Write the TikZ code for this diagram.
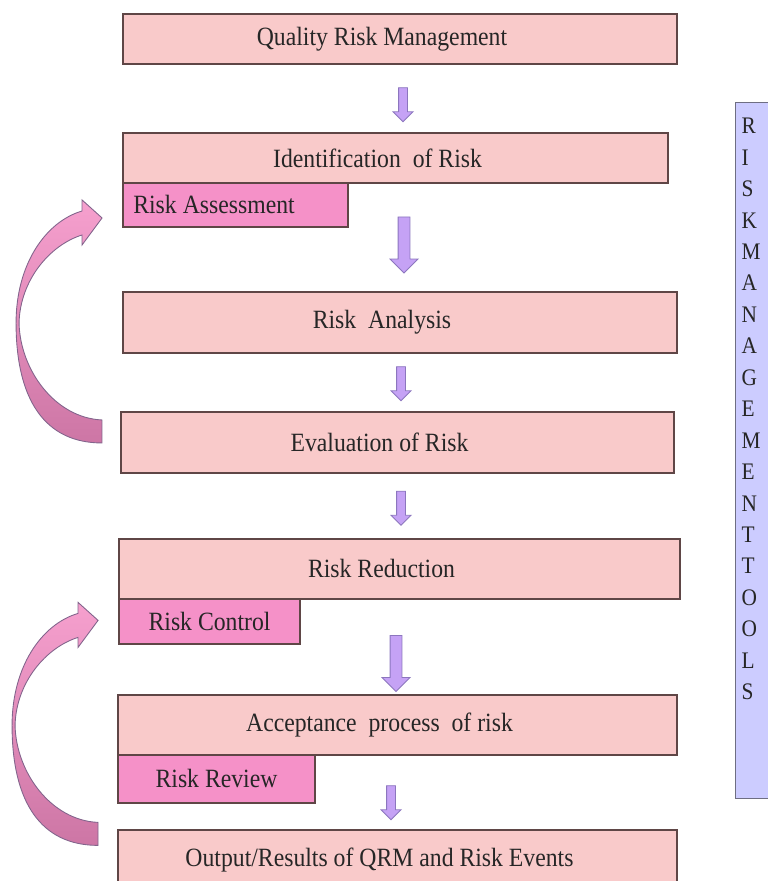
\documentclass[tikz,border=0pt]{standalone}
\usepackage{fontspec}
\setmainfont{Liberation Serif}[FakeStretch=0.9]
\usepackage{tikz}
\usetikzlibrary{positioning,shapes.arrows,calc}

\definecolor{boxfill}{RGB}{249,202,202}
\definecolor{boxline}{RGB}{95,70,70}
\definecolor{subfill}{RGB}{245,145,200}
\definecolor{arrowfill}{RGB}{197,162,245}
\definecolor{arrowline}{RGB}{140,118,190}
\definecolor{toolfill}{RGB}{204,204,255}
\definecolor{toolline}{RGB}{110,110,130}
\definecolor{looptop}{RGB}{246,160,206}
\definecolor{loopbottom}{RGB}{205,118,165}
\definecolor{loopline}{RGB}{130,100,140}

\newcommand\boxfont{\fontsize{15}{17}\selectfont}
\newcommand\toolfont{\fontsize{13.5}{17.9}\selectfont}

\begin{document}
\begin{tikzpicture}[%
    x=0.02cm,
    y=-0.02cm,
    plate/.style={%
      draw=boxline,
      fill=boxfill,
      line width=0.8pt,
      outer sep=0pt,
      text=black!85,
      font=\boxfont
    },
    box/.style={%
      plate,
      minimum width=11.08cm,
      minimum height=1.2cm,
      execute at begin node={\hspace*{-0.72cm}}
    },
    subbox/.style={%
      plate,
      fill=subfill,
      minimum height=0.9cm
    },
    downarrow/.style={%
      single arrow,
      draw=arrowline,
      fill=arrowfill,
      line width=0.5pt,
      rotate=-90,
      inner xsep=0pt,
      inner ysep=0.08cm,
      minimum width=0.38cm,
      single arrow head extend=0.11cm,
      minimum height=0.68cm
    },
    bigarrow/.style={%
      downarrow,
      inner ysep=0.11cm,
      minimum width=0.54cm,
      single arrow head extend=0.16cm,
      minimum height=1.12cm
    },
    backarrow/.pic={%
      \draw[draw=loopline, line width=0.5pt, top color=looptop, bottom color=loopbottom]
        (0,225) .. controls (-57,225) and (-86,182) .. (-86,105)
        .. controls (-86,47) and (-57,4) .. (-20,-7)
        -- (-20,-18) -- (0,0) -- (-20,27) -- (-20,17)
        .. controls (-52,27) and (-82,62) .. (-83,105)
        .. controls (-82,152) and (-47,200) .. (0,202) -- cycle;
    }
  ]
    \useasboundingbox (0,0) rectangle (767,881);

    % main steps
    \node[box, minimum height=1cm] (qrm) at (400,39)                        {Quality Risk Management};
    \node[box, minimum height=1cm, minimum width=10.9cm] (ident)
         [below right=1.38cm and 0cm of qrm.south west]                     {Identification\ \ of Risk};
    \node[box, minimum height=1.22cm] (analysis)
         [below right=2.18cm and 0cm of ident.south west]                   {Risk\ \ Analysis};
    \node[box, minimum height=1.22cm, minimum width=11.06cm] (eval)
         [below right=1.18cm and -0.04cm of analysis.south west]            {Evaluation of Risk};
    \node[box, minimum width=11.22cm] (reduce)
         [below right=1.32cm and -0.04cm of eval.south west]                {Risk Reduction};
    \node[box, minimum width=11.18cm] (accept)
         [below right=1.92cm and -0.02cm of reduce.south west]              {Acceptance\ \ process\ \ of risk};
    \node[box, minimum width=11.18cm] (output)
         [below right=1.5cm and 0cm of accept.south west]                   {Output/Results of QRM and Risk Events};

    % sub steps
    \node[subbox, minimum width=4.5cm, minimum height=0.88cm,
          execute at begin node={\hspace*{-0.86cm}}] (assess)
         [below right=0cm and 0cm of ident.south west]                      {Risk Assessment};
    \node[subbox, minimum width=3.62cm] (control)
         [below right=0cm and 0cm of reduce.south west]                     {Risk Control};
    \node[subbox, minimum width=3.94cm, minimum height=0.96cm] (review)
         [below right=0cm and 0cm of accept.south west]                     {Risk Review};

    % flow arrows
    \node[downarrow] (a1) at (403,102.5) {};
    \node[bigarrow]  (a2) at (404,242)   {};
    \node[downarrow] (a3) at (401,381.5) {};
    \node[downarrow] (a4) at (401,506)   {};
    \node[bigarrow]  (a5) at (396,660.5) {};
    \node[downarrow] (a6) at (391,800.5) {};

    % loops back
    \pic (loopa) at ($(assess.west)+(-21,13)$)  {backarrow};
    \pic (loopb) at ($(control.west)+(-21,-1)$) {backarrow};

    % tools column
    \node[%
      draw=toolline,
      fill=toolfill,
      line width=0.8pt,
      anchor=north west,
      inner xsep=0.12cm,
      inner ysep=0pt,
      text width=1.2cm,
      align=left,
      text height=0.62cm,
      text depth=13.3cm,
      text=black!85,
      font=\toolfont
    ] (tools) at (735,102) {R\\I\\S\\K\\M\\A\\N\\A\\G\\E\\M\\E\\N\\T\\T\\O\\O\\L\\S};
  \end{tikzpicture}
\end{document}
